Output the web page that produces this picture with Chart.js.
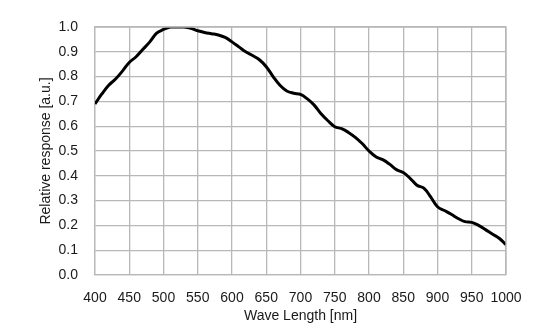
<!DOCTYPE html>
<html>
<head>
<meta charset="utf-8">
<script src="https://cdn.jsdelivr.net/npm/chart.js@4/dist/chart.umd.min.js"></script>
<style>
  html, body { margin: 0; padding: 0; background: #fff; }
  #wrap { width: 559px; height: 336px; position: relative; }
</style>
</head>
<body>
<div id="wrap"><canvas id="chart"></canvas></div>
<script>
// wavelength (nm) and relative response
const waveLengths = [400, 410, 420, 430, 440, 450, 460, 470, 480, 490,
  500, 510, 520, 530, 540, 550, 560, 570, 580, 590,
  600, 610, 620, 630, 640, 650, 660, 670, 680, 690,
  700, 710, 720, 730, 740, 750, 760, 770, 780, 790,
  800, 810, 820, 830, 840, 850, 860, 870, 880, 890,
  900, 910, 920, 930, 940, 950, 960, 970, 980, 990, 1000];
const response = [0.69, 0.73, 0.765, 0.79, 0.822, 0.857, 0.88, 0.91, 0.94, 0.975,
  0.99, 1.0, 1.0, 1.0, 0.995, 0.985, 0.978, 0.973, 0.968, 0.958,
  0.94, 0.92, 0.9, 0.885, 0.868, 0.84, 0.8, 0.765, 0.742, 0.733,
  0.728, 0.71, 0.685, 0.65, 0.622, 0.598, 0.59, 0.575, 0.555, 0.53,
  0.5, 0.477, 0.465, 0.447, 0.425, 0.413, 0.39, 0.362, 0.35, 0.315,
  0.275, 0.26, 0.245, 0.228, 0.215, 0.212, 0.2, 0.183, 0.165, 0.148, 0.122];
const xTitle = "Wave Length [nm]";
const yTitle = "Relative response [a.u.]";

const points = waveLengths.map((w, i) => ({ x: w, y: response[i] }));
const gridColor = "#b8b8b8";
const textColor = "#1a1a1a";
const tickFont = { family: "Liberation Sans, Arial, sans-serif", size: 14 };

new Chart(document.getElementById("chart"), {
  type: "line",
  data: {
    datasets: [{
      data: points,
      borderColor: "#000",
      borderWidth: 3,
      pointRadius: 0,
      tension: 0.4,
      fill: false
    }]
  },
  options: {
    responsive: true,
    maintainAspectRatio: false,
    animation: false,
    layout: { padding: { left: 38, right: 53, top: 27, bottom: 11 } },
    plugins: { legend: { display: false }, tooltip: { enabled: false } },
    scales: {
      x: {
        type: "linear",
        min: 400,
        max: 1000,
        afterFit: (s) => { s.height = 50; },
        ticks: { stepSize: 50, autoSkip: false, color: textColor, font: tickFont, padding: 15,
          maxRotation: 0, callback: (v) => String(v) },
        grid: { color: gridColor, lineWidth: 1.3, drawTicks: false },
        border: { color: gridColor, width: 1.3 },
        title: { display: true, text: xTitle, color: textColor, font: tickFont, padding: { top: 0, bottom: 0 } }
      },
      y: {
        min: 0,
        max: 1,
        afterFit: (s) => { s.width = 57; },
        ticks: { stepSize: 0.1, color: textColor, font: tickFont, padding: 17,
          callback: (v) => v.toFixed(1) },
        grid: { color: gridColor, lineWidth: 1.3, drawTicks: false },
        border: { color: gridColor, width: 1.3 },
        title: { display: true, text: yTitle, color: textColor, font: tickFont, padding: { top: 0, bottom: 0 } }
      }
    }
  },
  plugins: [{
    id: "topRightBorder",
    afterDraw(chart) {
      const { ctx, chartArea: a } = chart;
      ctx.save();
      ctx.strokeStyle = gridColor;
      ctx.lineWidth = 1.3;
      ctx.beginPath();
      ctx.moveTo(a.left, a.top);
      ctx.lineTo(a.right, a.top);
      ctx.lineTo(a.right, a.bottom);
      ctx.stroke();
      ctx.restore();
    }
  }]
});
</script>
</body>
</html>
